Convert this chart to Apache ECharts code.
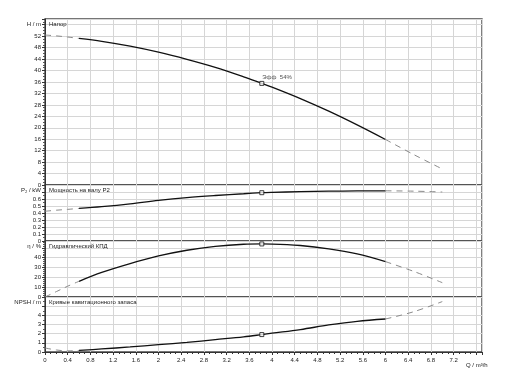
<!DOCTYPE html>
<html>
<head>
<meta charset="utf-8">
<script src="https://cdn.jsdelivr.net/npm/echarts@6/dist/echarts.min.js"></script>
<style>
  html, body { margin: 0; padding: 0; background: #fff; }
  #chart { width: 508px; height: 381px; }
</style>
</head>
<body>
<div id="chart"></div>
<script>
// Pump curves: flow Q (m³/h) against head, shaft power, efficiency and NPSH
const flow  = [0, 0.2, 0.4, 0.6, 1, 1.5, 2, 2.5, 3, 3.5, 3.82, 4, 4.5, 5, 5.5, 6, 6.5, 7];
const head  = [52.4, 52.1, 51.7, 51.2, 50.2, 48.5, 46.4, 43.9, 41.1, 37.8, 35.5, 34.2, 30.2, 25.8, 21.0, 15.9, 10.6, 5.6];
const power = [0.425, 0.44, 0.452, 0.465, 0.49, 0.53, 0.58, 0.62, 0.65, 0.675, 0.69, 0.695, 0.705, 0.712, 0.717, 0.717, 0.712, 0.70];
const eff   = [0, 5.5, 11, 16, 25, 34, 41.8, 47.6, 51.6, 53.7, 54, 53.9, 52.4, 49, 43.8, 36, 26, 14.6];
const npsh  = [0.44, 0.22, 0.12, 0.17, 0.33, 0.55, 0.8, 1.05, 1.35, 1.65, 1.9, 2.05, 2.45, 2.95, 3.35, 3.6, 4.4, 5.5];

// Allowed operating range (solid), duty point
const qLow = 0.6, qHigh = 6, qDuty = 3.82;

const panelTitles = ['Напор', 'Мощность на валу P2', 'Гидравлический КПД', 'Кривые кавитационного запаса'];
const axisNames   = ['H / m', 'P₂ / kW', 'η / %', 'NPSH / m'];
const xTicks = { min: 0, max: 7.7, interval: 0.4 };

const FONT = 'Liberation Sans, Arial, sans-serif';
const iDuty = flow.indexOf(qDuty);

function segments(values) {
  const pts = flow.map((q, i) => [q, values[i]]);
  return {
    low:  pts.filter(p => p[0] <= qLow),
    mid:  pts.filter(p => p[0] >= qLow && p[0] <= qHigh),
    high: pts.filter(p => p[0] >= qHigh)
  };
}

const panels = [
  { values: head,  max: 58,  interval: 4,   minor: 4, hideAbove: 54 },
  { values: power, max: 0.8, interval: 0.1, minor: 2, hideAbove: 0.65 },
  { values: eff,   max: 57,  interval: 10,  minor: 5, hideAbove: 45 },
  { values: npsh,  max: 6,   interval: 1,   minor: 2, hideAbove: 4.5 }
];

const grids = [
  { left: 45, right: 26, top: 19,  height: 166 },
  { left: 45, right: 26, top: 185, height: 56 },
  { left: 45, right: 26, top: 241, height: 56 },
  { left: 45, right: 26, top: 297, height: 55 }
].map(g => Object.assign(g, { show: true, borderColor: '#4a4a4a', borderWidth: 1.4, backgroundColor: 'transparent' }));

const fmt = v => String(Math.round(v * 100) / 100);

const xAxes = panels.map((p, i) => {
  const bottom = i === panels.length - 1;
  return {
    type: 'value', gridIndex: i,
    min: xTicks.min, max: xTicks.max, interval: xTicks.interval,
    axisLine: { show: bottom, lineStyle: { color: '#333' } },
    axisTick: { show: bottom, length: 3, lineStyle: { color: '#333' } },
    minorTick: { show: bottom, splitNumber: 4, length: 2, lineStyle: { color: '#333' } },
    axisLabel: {
      show: bottom, fontSize: 6, margin: 5, color: '#222', fontFamily: FONT,
      formatter: v => (v > 7.3 ? '' : fmt(v))
    },
    splitLine: { show: true, lineStyle: { color: '#d6d6d6', width: 1 } },
    name: bottom ? 'Q / m³/h' : '',
    nameLocation: 'end', nameGap: -16,
    nameTextStyle: { fontSize: 6, color: '#222', fontFamily: FONT, verticalAlign: 'top', padding: [10, 0, 0, 0] }
  };
});

const yAxes = panels.map((p, i) => ({
  type: 'value', gridIndex: i,
  min: 0, max: p.max, interval: p.interval,
  axisLine: { show: true, lineStyle: { color: '#333' } },
  axisTick: { show: true, length: 3, lineStyle: { color: '#333' } },
  minorTick: { show: true, splitNumber: p.minor, length: 2, lineStyle: { color: '#555' } },
  axisLabel: {
    fontSize: 6, margin: 4, color: '#222', fontFamily: FONT,
    formatter: v => (v > p.hideAbove ? '' : fmt(v))
  },
  splitLine: { show: true, lineStyle: { color: '#d6d6d6', width: 1 } },
  name: axisNames[i],
  nameLocation: 'end', nameGap: -5,
  nameTextStyle: { fontSize: 6, color: '#222', fontFamily: FONT, align: 'right', verticalAlign: 'middle', padding: [0, 4, 0, 0] }
}));

const series = [];
panels.forEach((p, i) => {
  const s = segments(p.values);
  const dashed = { color: '#8a8a8a', width: 1, type: [6, 5] };
  const common = { type: 'line', xAxisIndex: i, yAxisIndex: i, showSymbol: false, smooth: 0.35, silent: true };
  series.push(
    Object.assign({ data: s.low,  lineStyle: dashed }, common),
    Object.assign({ data: s.mid,  lineStyle: { color: '#111', width: 1.3 } }, common),
    Object.assign({ data: s.high, lineStyle: dashed }, common),
    {
      type: 'scatter', xAxisIndex: i, yAxisIndex: i, z: 5,
      data: [[qDuty, p.values[iDuty]]],
      symbol: 'rect', symbolSize: 4,
      itemStyle: { color: '#fff', borderColor: '#111', borderWidth: 1 },
      label: i === 0 ? {
        show: true, position: [3, -7], fontSize: 6, color: '#222', fontFamily: FONT,
        formatter: () => 'Эфф  ' + eff[iDuty] + '%'
      } : { show: false },
      silent: true
    }
  );
});

const titles = panelTitles.map((t, i) => ({
  text: t, left: 49, top: grids[i].top + 2, padding: 0,
  textStyle: { fontSize: 6, fontWeight: 'normal', color: '#222', fontFamily: FONT }
}));

const chart = echarts.init(document.getElementById('chart'), null, { renderer: 'canvas' });
chart.setOption({
  animation: false,
  backgroundColor: '#fff',
  title: titles,
  grid: grids,
  xAxis: xAxes,
  yAxis: yAxes,
  series: series
});
</script>
</body>
</html>
